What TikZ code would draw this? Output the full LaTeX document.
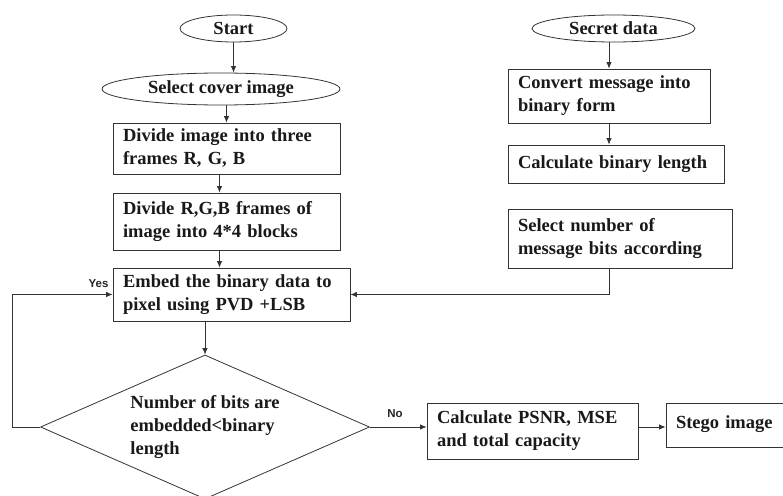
\documentclass[tikz,border=0pt]{standalone}
\usepackage{fontspec}
\setmainfont{Liberation Serif}
\newfontfamily\lblfont{Liberation Sans}
\usetikzlibrary{shapes.geometric,arrows.meta}
\begin{document}
\begin{tikzpicture}[x=1pt,y=-1pt,
  every node/.style={font=\fontsize{18.5}{23}\selectfont\bfseries, text=black!90},
  line/.style={draw=black!80, line width=0.8pt},
  arr/.style={line, -{Latex[length=6.5pt,width=5.5pt]}},
  pbox/.style n args={3}{draw=black!80, line width=0.8pt, rectangle, inner xsep=10pt, inner ysep=2pt,
     text width=#1, minimum width=#2, minimum height=#3, align=left},
  oval/.style n args={2}{draw=black!80, line width=0.8pt, ellipse, inner sep=0pt, minimum width=#1, minimum height=#2},
  lbl/.style={font=\lblfont\fontsize{11.5}{13}\selectfont\bfseries, text=black!85}
]
\useasboundingbox (0,0) rectangle (783,495);

% left column
\node[oval={107pt}{27pt}] (start) at (233.5,28.5) {Start};
\node[oval={238pt}{32pt}] (select) at (221,89) {Select cover image};
\node[pbox={207pt}{227pt}{51pt}] (div1) at (226.5,148.5) {Divide image into three\\frames R, G, B};
\node[pbox={207pt}{227pt}{57pt}] (div2) at (226.5,221.5) {Divide R,G,B frames of\\image into 4*4 blocks};
\node[pbox={217pt}{237pt}{53pt}] (embed) at (231.5,294.5) {Embed the binary data to\\pixel using PVD +LSB};
\node[draw=black!80, line width=0.8pt, diamond, inner sep=0pt, aspect=2.28,
      minimum width=329pt, minimum height=144pt, align=left] (dec) at (205,427)
      {Number of bits are\\embedded<binary\\length};

% right column
\node[oval={163pt}{27pt}] (secret) at (613.5,28.5) {Secret data};
\node[pbox={182pt}{202pt}{54pt}] (convert) at (609,96) {Convert message into\\binary form};
\node[pbox={196pt}{216pt}{38pt}] (calcbin) at (616,164) {Calculate binary length};
\node[pbox={204pt}{224pt}{59pt}] (selnum) at (620,238.5) {Select number of\\message bits according};

% bottom row
\node[pbox={191pt}{211pt}{56pt}] (calc) at (532.5,431) {Calculate PSNR, MSE\\and total capacity};
\node[pbox={114pt}{134pt}{44pt}] (stego) at (733,425) {\raisebox{6pt}{Stego image}};

% labels
\node[lbl, anchor=east] (yes) at (112,284) {Yes};
\node[lbl] (no) at (395,414) {No};

% connectors
\draw[arr] (start.south) -- (start.south |- select.north);
\draw[arr] (select.south -| div1.north) -- (div1.north);
\draw[arr] ([xshift=-7pt]div1.south) -- ([xshift=-7pt]div2.north);
\draw[arr] ([xshift=-7pt]div2.south) -- ([xshift=-7pt]div2.south |- embed.north);
\draw[arr] (dec.north |- embed.south) -- (dec.north);
\draw[arr] (dec.west) -- ++(-28,0) |- (embed.west);
\draw[arr] (dec.east) -- (dec.east -| calc.west);
\draw[arr] (calc.east |- dec.east) -- (stego.west |- dec.east);
\draw[arr] (secret.south -| convert.north) -- (convert.north);
\draw[arr] (convert.south) -- (convert.south |- calcbin.north);
\draw[arr] (selnum.south -| convert.south) -- ++(0,25) -| ++(0,0) |- (embed.east);
\end{tikzpicture}
\end{document}
